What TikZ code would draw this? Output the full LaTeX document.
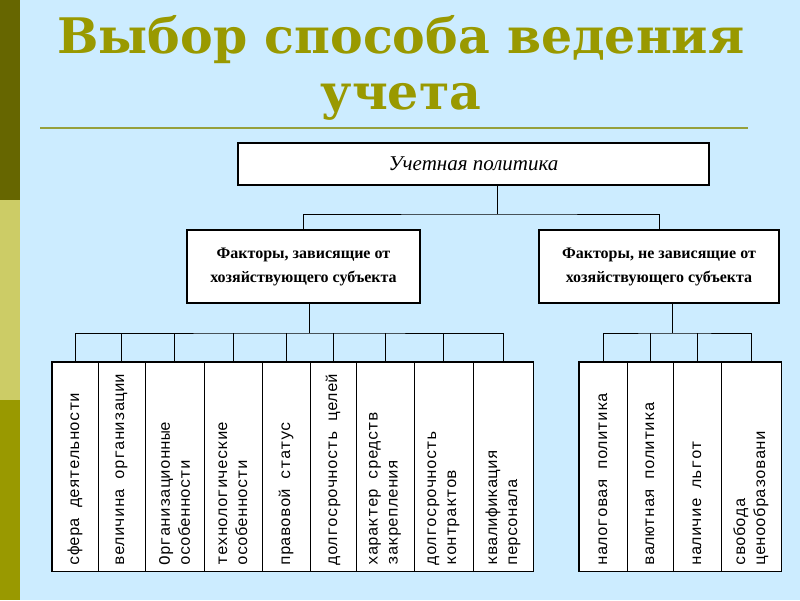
\documentclass[tikz,border=0pt]{standalone}
\usepackage{fontspec}
\setmainfont{Liberation Serif}
\setmonofont{Liberation Mono}
\newfontfamily\titlefont{DejaVu Serif}
\usepackage{graphicx}
\definecolor{slidebg}{RGB}{204,236,255}
\definecolor{stripedark}{RGB}{102,102,0}
\definecolor{stripelight}{RGB}{204,204,102}
\definecolor{stripemid}{RGB}{153,153,0}
\definecolor{titlecol}{RGB}{153,153,0}
\definecolor{rulecol}{RGB}{150,160,60}
\newcommand{\vlabel}[1]{\rotatebox{90}{\parbox{198pt}{\raggedright #1}}}

\begin{document}
\begin{tikzpicture}[x=1pt, y=1pt,
		title/.style={text=titlecol, anchor=base, inner sep=0pt, font=\titlefont\bfseries\fontsize{49}{57}\selectfont},
		headbox/.style={rectangle, draw, fill=white, line width=1.8pt, minimum width=471pt, minimum height=42pt, font=\itshape\fontsize{21}{22}\selectfont},
		factorbox/.style={rectangle, draw, fill=white, line width=1.8pt, minimum height=73pt, align=center, font=\bfseries\fontsize{16}{24}\selectfont},
		cell/.style={rectangle, draw, fill=white, line width=0.8pt, inner sep=0pt, minimum height=209pt, font=\ttfamily\fontsize{16}{20}\selectfont},
		frame/.style={line width=1.8pt},
		link/.style={line width=0.8pt}]
		\fill [slidebg] (0, 0) rectangle (800, 600);
		\useasboundingbox (0, 0) rectangle (800, 600);
		\fill [stripedark] (0, 400) rectangle (20, 600);
		\fill [stripelight] (0, 200) rectangle (20, 400);
		\fill [stripemid] (0, 0) rectangle (20, 200);
		\path (401, 546) node(title1) [title] {Выбор способа ведения};
		\path (401, 490) node(title2) [title] {учета};
		\draw [rulecol, line width=2pt] (40, 472) -- (748, 472);
		\path (473.5, 436) node(head) [headbox] {Учетная политика};
		\path (303.5, 333.5) node(fl) [factorbox, minimum width=233pt] {Факторы, зависящие от\\хозяйствующего субъекта};
		\path (659, 333.5) node(fr) [factorbox, minimum width=240pt] {Факторы, не зависящие от\\хозяйствующего субъекта};
		\coordinate (hub) at (497, 386);
		\coordinate (lbus) at (309, 267);
		\coordinate (rbus) at (672, 267);
		\draw [link] (head.south -| hub) -- (hub);
		\draw [link] (fl.north) |- (hub) -| (fr.north);
		\draw [link] (fl.south -| lbus) -- (lbus);
		\draw [link] (fr.south -| rbus) -- (rbus);
		\path (75, 133.5) node(l1) [cell, minimum width=46pt] {\vlabel{сфера деятельности}};
		\path (121.5, 133.5) node(l2) [cell, minimum width=47pt] {\vlabel{величина организации}};
		\path (174.5, 133.5) node(l3) [cell, minimum width=59pt] {\vlabel{Организационные\\особенности}};
		\path (233, 133.5) node(l4) [cell, minimum width=58pt] {\vlabel{технологические\\особенности}};
		\path (286, 133.5) node(l5) [cell, minimum width=48pt] {\vlabel{правовой статус}};
		\path (333, 133.5) node(l6) [cell, minimum width=46pt] {\vlabel{долгосрочность целей}};
		\path (385, 133.5) node(l7) [cell, minimum width=58pt] {\vlabel{характер средств\\закрепления}};
		\path (443.5, 133.5) node(l8) [cell, minimum width=59pt] {\vlabel{долгосрочность\\контрактов}};
		\path (503, 133.5) node(l9) [cell, minimum width=60pt] {\vlabel{квалификация\\персонала}};
		\path (603, 133.5) node(r1) [cell, minimum width=48pt] {\vlabel{налоговая политика}};
		\path (650, 133.5) node(r2) [cell, minimum width=46pt] {\vlabel{валютная политика}};
		\path (697, 133.5) node(r3) [cell, minimum width=48pt] {\vlabel{наличие льгот}};
		\path (751, 133.5) node(r4) [cell, minimum width=60pt] {\vlabel{свобода\\ценообразовани}};
		\draw [frame] (l1.south west) rectangle (l9.north east);
		\draw [frame] (r1.south west) rectangle (r4.north east);
		\draw [link] (l1.north) |- (lbus) -| (l9.north);
		\draw [link] (l2.north) -- (l2.north |- lbus);
		\draw [link] (l3.north) -- (l3.north |- lbus);
		\draw [link] (l4.north) -- (l4.north |- lbus);
		\draw [link] (l5.north) -- (l5.north |- lbus);
		\draw [link] (l6.north) -- (l6.north |- lbus);
		\draw [link] (l7.north) -- (l7.north |- lbus);
		\draw [link] (l8.north) -- (l8.north |- lbus);
		\draw [link] (r1.north) |- (rbus) -| (r4.north);
		\draw [link] (r2.north) -- (r2.north |- rbus);
		\draw [link] (r3.north) -- (r3.north |- rbus);
	\end{tikzpicture}
\end{document}
